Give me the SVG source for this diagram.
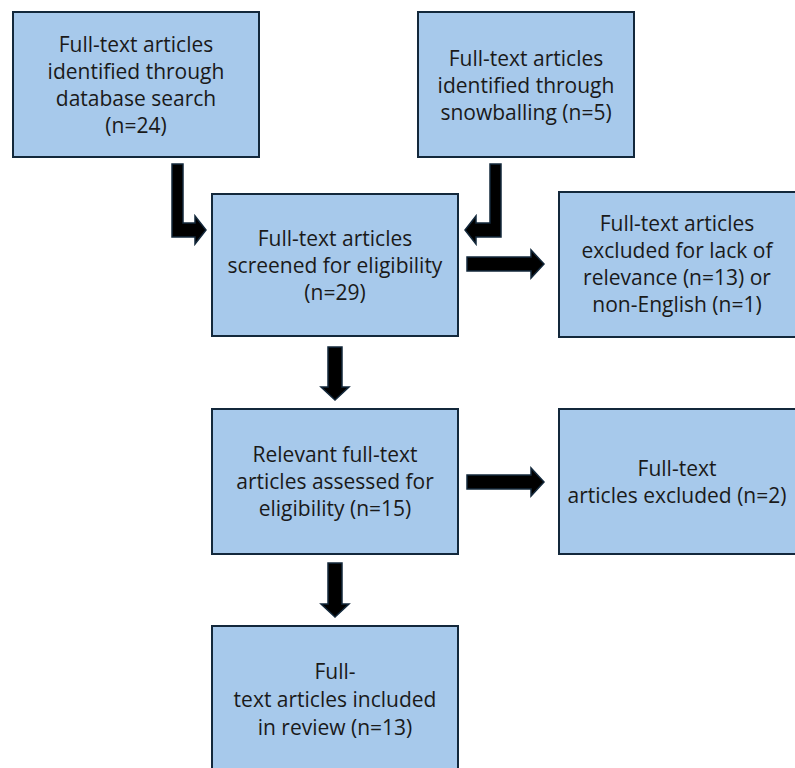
<svg xmlns="http://www.w3.org/2000/svg" width="795" height="768" viewBox="0 0 795 768">
<style>
.box{fill:#a7c9eb;stroke:#13283b;stroke-width:2}
.t{font-family:"Open Sans","Liberation Sans",sans-serif;font-size:21px;fill:#1a1a1a;text-anchor:middle}
.arr{fill:#000;stroke:#13283b;stroke-width:1.5;stroke-linejoin:miter}
</style>
<rect width="795" height="768" fill="#fff"/>
<g id="n1"><rect class="box" x="13" y="12" width="246" height="145"/>
<text class="t" x="136" y="52">Full-text articles</text>
<text class="t" x="136" y="79">identified through</text>
<text class="t" x="136" y="106">database search</text>
<text class="t" x="136" y="133">(n=24)</text></g>
<g id="n2"><rect class="box" x="418" y="12" width="216" height="145"/>
<text class="t" x="526" y="66">Full-text articles</text>
<text class="t" x="526" y="93">identified through</text>
<text class="t" x="526" y="120">snowballing (n=5)</text></g>
<g id="n3"><rect class="box" x="212" y="194" width="246" height="142"/>
<text class="t" x="335" y="246">Full-text articles</text>
<text class="t" x="335" y="273">screened for eligibility</text>
<text class="t" x="335" y="300">(n=29)</text></g>
<g id="n4"><rect class="box" x="559" y="192" width="240" height="145"/>
<text class="t" x="677" y="231">Full-text articles</text>
<text class="t" x="677" y="258">excluded for lack of</text>
<text class="t" x="677" y="285">relevance (n=13) or</text>
<text class="t" x="677" y="312">non-English (n=1)</text></g>
<g id="n5"><rect class="box" x="212" y="409" width="246" height="145"/>
<text class="t" x="335" y="462">Relevant full-text</text>
<text class="t" x="335" y="489">articles assessed for</text>
<text class="t" x="335" y="516">eligibility (n=15)</text></g>
<g id="n6"><rect class="box" x="559" y="409" width="240" height="145"/>
<text class="t" x="677" y="476">Full-text</text>
<text class="t" x="677" y="503">articles excluded (n=2)</text></g>
<g id="n7"><rect class="box" x="212" y="626" width="246" height="150"/>
<text class="t" x="335" y="679">Full-</text>
<text class="t" x="335" y="707">text articles included</text>
<text class="t" x="335" y="735">in review (n=13)</text></g>
<g id="connectors">
<polygon class="arr" points="172,164 183,164 183,223 195,223 195,216 206,230 195,244 195,237 172,237"/>
<polygon class="arr" points="501,164 490,164 490,223 476,223 476,216 465,230 476,244 476,237 501,237"/>
<polygon class="arr" points="467,257 531,257 531,250 544,264 531,278 531,271 467,271"/>
<polygon class="arr" points="467,475 531,475 531,468 544,482 531,496 531,489 467,489"/>
<polygon class="arr" points="328,347 342,347 342,387 349,387 335,400 321,387 328,387"/>
<polygon class="arr" points="328,563 342,563 342,604 349,604 335,617 321,604 328,604"/>
</g>
</svg>
